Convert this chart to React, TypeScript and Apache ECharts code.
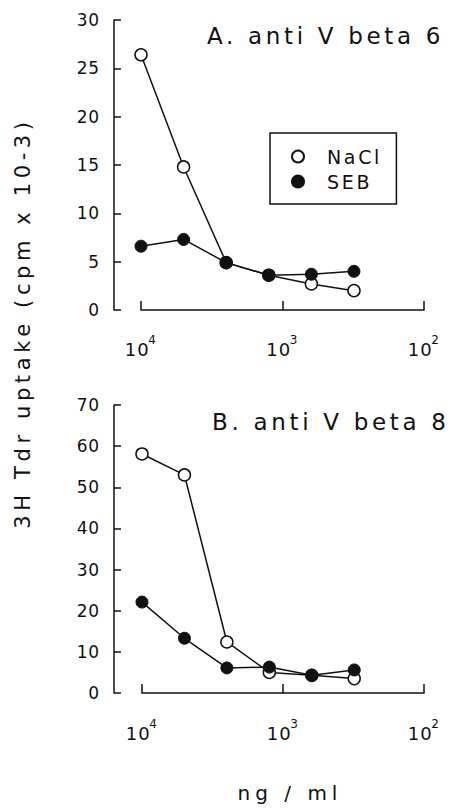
import React, { useEffect, useRef } from "react";
import * as echarts from "echarts";

const doses = [10000, 5000, 2500, 1250, 625, 312.5];
const naclA = [26.4, 14.8, 4.9, 3.6, 2.7, 2.0];
const sebA = [6.6, 7.3, 4.9, 3.6, 3.7, 4.0];
const naclB = [58.1, 53.0, 12.4, 5.0, 4.3, 3.5];
const sebB = [22.1, 13.3, 6.1, 6.3, 4.3, 5.6];
const seriesNames = ["NaCl", "SEB"];
const panelTitles = ["A. anti V beta 6", "B. anti V beta 8"];
const yAxisTitle = "3H Tdr uptake (cpm x 10-3)";
const xAxisTitle = "ng / ml";
const yMaxA = 30;
const yStepA = 5;
const yMaxB = 70;
const yStepB = 10;

const FONT = "DejaVu Sans";
const INK = "#111";

const CSS = `
.fig svg text { letter-spacing: 0.05em; }
.fig svg text[style*="23px"] { letter-spacing: 0.16em; }
.fig svg text[style*="21px"] { letter-spacing: 0.22em; }
.fig svg text[style*="20px"] { letter-spacing: 0.25em; }
.fig svg text[style*="19px"] { letter-spacing: 0.14em; }
`;

function pairs(vals: number[]) {
  return doses.map((d, i) => [d, vals[i]]);
}

function xAxis(gridIndex: number, offset: number) {
  return {
    type: "log",
    logBase: 10,
    min: 100,
    max: 10000,
    inverse: true,
    gridIndex,
    offset,
    axisLine: { show: true, lineStyle: { color: INK, width: 1.5 } },
    axisTick: { show: true, inside: true, length: 9, lineStyle: { color: INK, width: 1.5 } },
    minorTick: { show: false },
    splitLine: { show: false },
    axisLabel: {
      margin: 12,
      color: INK,
      fontFamily: FONT,
      formatter: (v: number) => `{b|10}{s|${Math.round(Math.log10(v))}}`,
      rich: {
        b: { fontSize: 18, fontFamily: FONT, color: INK, lineHeight: 24, verticalAlign: "bottom" },
        s: { fontSize: 12, fontFamily: FONT, color: INK, lineHeight: 12, verticalAlign: "top" },
      },
    },
  };
}

function yAxis(gridIndex: number, max: number, interval: number, offset: number) {
  return {
    type: "value",
    gridIndex,
    min: 0,
    max,
    interval,
    offset,
    axisLine: { show: true, lineStyle: { color: INK, width: 1.5 } },
    axisTick: { show: true, inside: true, length: 7, lineStyle: { color: INK, width: 1.5 } },
    splitLine: { show: false },
    axisLabel: { margin: 14, fontSize: 17, color: INK, fontFamily: FONT },
  };
}

function lineSeries(name: string, vals: number[], idx: number, filled: boolean) {
  return {
    type: "line",
    name,
    xAxisIndex: idx,
    yAxisIndex: idx,
    data: pairs(vals),
    symbol: "circle",
    symbolSize: 12,
    z: filled ? 3 : 2,
    lineStyle: { color: INK, width: 1.5 },
    itemStyle: filled
      ? { color: INK, borderColor: INK, borderWidth: 1 }
      : { color: "#fff", borderColor: INK, borderWidth: 1.5 },
    emphasis: { disabled: true },
  };
}

export default function App() {
  const ref = useRef<HTMLDivElement>(null);
  useEffect(() => {
    if (!ref.current) return;
    const chart = echarts.init(ref.current, undefined, { renderer: "svg" });
    chart.setOption({
      animation: false,
      backgroundColor: "#fff",
      grid: [
        { left: 141, width: 283, top: 20, height: 290, containLabel: false, outerBoundsMode: "none" },
        { left: 142, width: 282, top: 405, height: 288, containLabel: false, outerBoundsMode: "none" },
      ],
      xAxis: [xAxis(0, 12), xAxis(1, 13)],
      yAxis: [yAxis(0, yMaxA, yStepA, 27), yAxis(1, yMaxB, yStepB, 28)],
      legend: {
        data: seriesNames,
        orient: "vertical",
        left: 270,
        top: 133,
        icon: "circle",
        itemWidth: 48,
        itemHeight: 12,
        itemGap: 6,
        padding: [14, 25, 13, 21],
        borderColor: INK,
        borderWidth: 1.5,
        selectedMode: false,
        textStyle: { fontSize: 19, color: INK, fontFamily: FONT },
      },
      series: [
        lineSeries(seriesNames[0], naclA, 0, false),
        lineSeries(seriesNames[1], sebA, 0, true),
        lineSeries(seriesNames[0], naclB, 1, false),
        lineSeries(seriesNames[1], sebB, 1, true),
      ],
      graphic: [
        {
          type: "text",
          left: 207,
          top: 24,
          style: { text: panelTitles[0], fontSize: 23, fontFamily: FONT, fill: INK },
        },
        {
          type: "text",
          left: 212,
          top: 410,
          style: { text: panelTitles[1], fontSize: 23, fontFamily: FONT, fill: INK },
        },
        {
          type: "text",
          x: 23,
          y: 323,
          rotation: Math.PI / 2,
          style: {
            text: yAxisTitle,
            fontSize: 21,
            fontFamily: FONT,
            fill: INK,
            align: "center",
            verticalAlign: "middle",
          },
        },
        {
          type: "text",
          x: 290,
          y: 793,
          style: {
            text: xAxisTitle,
            fontSize: 20,
            fontFamily: FONT,
            fill: INK,
            align: "center",
            verticalAlign: "middle",
          },
        },
      ],
    });
    return () => chart.dispose();
  }, []);
  return (
    <>
      <style>{CSS}</style>
      <div
        className="fig"
        ref={ref}
        style={{ width: 456, height: 809, position: "absolute", left: 0, top: 0 }}
      />
    </>
  );
}
